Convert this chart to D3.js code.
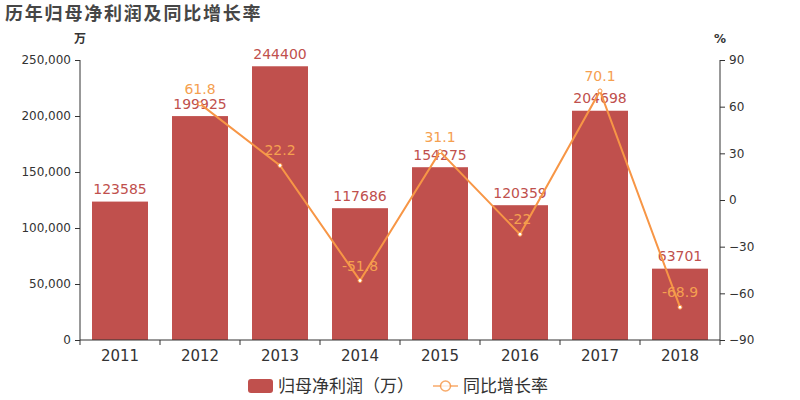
<!DOCTYPE html>
<html><head><meta charset="utf-8">
<script src="https://cdn.jsdelivr.net/npm/d3@7"></script>
<style>body{margin:0;background:#fff}svg{display:block}svg text{font-family:"DejaVu Sans","Noto Sans CJK SC",sans-serif}</style>
</head><body><svg id="c" width="800" height="400"></svg>
<script>
const years = ["2011","2012","2013","2014","2015","2016","2017","2018"];
const profit = [123585,199925,244400,117686,154275,120359,204698,63701];
const growth = [null,61.8,22.2,-51.8,31.1,-22,70.1,-68.9];
const leftTicks = [0,50000,100000,150000,200000,250000];
const rightTicks = [-90,-60,-30,0,30,60,90];

const barColor="#c0504d", lineColor="#f79646", txt="#333";
const svg=d3.select("#c");
const L=80,R=720,T=60,B=340;
const xb=d3.scaleBand().domain(years).range([L,R]);
const y=d3.scaleLinear().domain([0,250000]).range([B,T]);
const y2=d3.scaleLinear().domain([-90,90]).range([B,T]);

svg.append("text").attr("x",5).attr("y",20).attr("font-size",18).attr("letter-spacing",1.8).attr("font-weight","bold").attr("fill","#464646").style("font-family","'Noto Sans CJK SC',sans-serif").text("历年归母净利润及同比增长率");
svg.append("text").attr("x",80).attr("y",43).attr("text-anchor","middle").attr("font-size",12).attr("font-weight","bold").attr("fill",txt).text("万");
svg.append("text").attr("x",720).attr("y",43).attr("text-anchor","middle").attr("font-size",12).attr("font-weight","bold").attr("fill",txt).text("%");

// bars
svg.append("g").selectAll("rect").data(profit).join("rect")
 .attr("x",(d,i)=>xb(years[i])+12).attr("width",56)
 .attr("y",d=>y(d)).attr("height",d=>B-y(d)).attr("fill",barColor);
svg.append("g").selectAll("text").data(profit).join("text")
 .attr("x",(d,i)=>xb(years[i])+40).attr("y",d=>y(d)-7.5)
 .attr("text-anchor","middle").attr("font-size",14).attr("fill",barColor).text(d=>d);

// axes
const la=svg.append("g").attr("transform",`translate(${L},0)`).call(d3.axisLeft(y).tickValues(leftTicks).tickFormat(d3.format(",")).tickSize(5).tickPadding(4));
const ra=svg.append("g").attr("transform",`translate(${R},0)`).call(d3.axisRight(y2).tickValues(rightTicks).tickSize(5).tickPadding(4));
const xa=svg.append("g").attr("transform",`translate(0,${B})`).call(d3.axisBottom(xb).tickSize(0).tickPadding(8));
[la,ra,xa].forEach(g=>g.attr("font-family",null));
xa.selectAll("text").attr("font-size",15).attr("fill",txt).attr("dy",null).attr("y",21);
[la,ra].forEach(g=>{g.selectAll("text").attr("font-size",12).attr("fill",txt);});
[la,ra,xa].forEach(g=>{g.select(".domain").attr("stroke",txt);g.selectAll("line").attr("stroke",txt);});
la.select(".domain").attr("d",`M0,${T}V${B}`);
ra.select(".domain").attr("d",`M0,${T}V${B}`);
xa.select(".domain").attr("d",`M${L},0H${R}`);
svg.append("g").selectAll("line").data(d3.range(years.length+1)).join("line")
 .attr("x1",i=>L+i*xb.step()).attr("x2",i=>L+i*xb.step()).attr("y1",B).attr("y2",B+5).attr("stroke",txt);

// line
const pts=growth.map((g,i)=>({g,i})).filter(d=>d.g!==null);
const line=d3.line().x(d=>xb(years[d.i])+40).y(d=>y2(d.g));
svg.append("path").datum(pts).attr("d",line).attr("fill","none").attr("stroke",lineColor).attr("stroke-width",2);
svg.append("g").selectAll("circle").data(pts).join("circle")
 .attr("cx",d=>xb(years[d.i])+40).attr("cy",d=>y2(d.g)).attr("r",2).attr("fill","#fff").attr("stroke",lineColor).attr("stroke-width",1);
svg.append("g").selectAll("text").data(pts).join("text")
 .attr("x",d=>xb(years[d.i])+40).attr("y",d=>y2(d.g)-10)
 .attr("text-anchor","middle").attr("font-size",14).attr("fill","#f5a050").text(d=>d.g);

// legend
const lg=svg.append("g");
lg.append("rect").attr("x",248).attr("y",379).attr("width",25).attr("height",14).attr("rx",3).attr("fill",barColor);
lg.append("text").attr("x",278).attr("y",392).attr("font-size",17).attr("fill",txt).style("font-family","'Noto Sans CJK SC',sans-serif").text("归母净利润（万）");
lg.append("line").attr("x1",433).attr("x2",458).attr("y1",386).attr("y2",386).attr("stroke",lineColor).attr("stroke-width",1.5).attr("opacity",0.8);
lg.append("circle").attr("cx",445.5).attr("cy",386).attr("r",5).attr("fill","#fff").attr("stroke",lineColor).attr("stroke-width",1.5).attr("opacity",0.8);
lg.append("text").attr("x",463).attr("y",392).attr("font-size",17).attr("fill",txt).style("font-family","'Noto Sans CJK SC',sans-serif").text("同比增长率");
</script></body></html>
